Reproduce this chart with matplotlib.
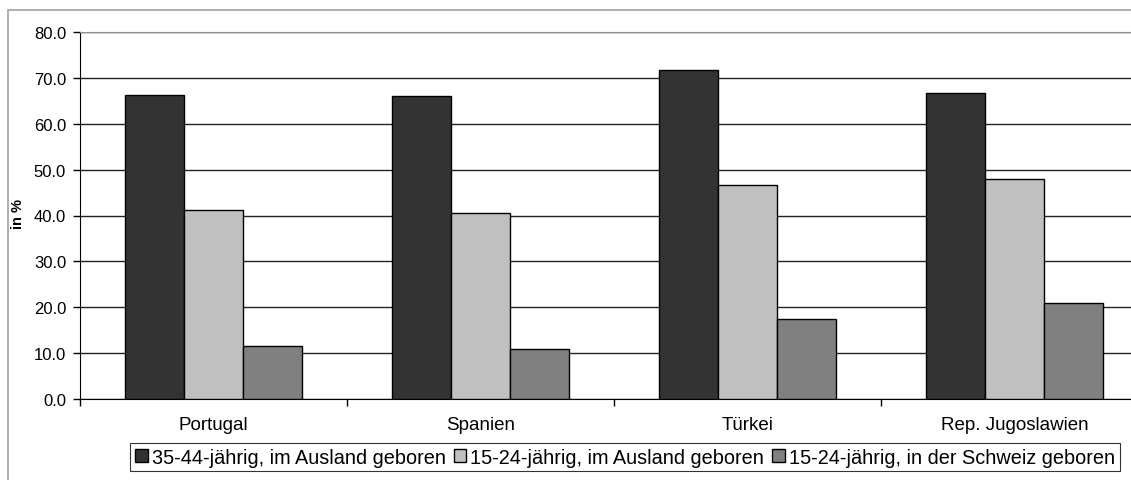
import matplotlib.pyplot as plt
import numpy as np
from matplotlib.patches import Rectangle

plt.rcParams['font.family'] = ['Liberation Sans', 'DejaVu Sans']

# Daten
laender = ['Portugal', 'Spanien', 'Türkei', 'Rep. Jugoslawien']
serien = ['35-44-jährig, im Ausland geboren',
          '15-24-jährig, im Ausland geboren',
          '15-24-jährig, in der Schweiz geboren']
werte_35_44_ausland = [66.3, 66.1, 71.8, 66.6]
werte_15_24_ausland = [41.3, 40.6, 46.6, 47.9]
werte_15_24_schweiz = [11.6, 10.9, 17.4, 21.0]
farben = ['#333333', '#c0c0c0', '#808080']

fig = plt.figure(figsize=(11.31, 4.81), dpi=100)
ax = fig.add_axes([80 / 1131, 1 - 400 / 481, 1068 / 1131, 367 / 481])

# Rahmen um das ganze Diagramm (rechts und unten abgeschnitten)
oben = 1 - 11 / 481
fig.patches.append(Rectangle((8 / 1131, -0.1), 1.2, oben + 0.1,
                             transform=fig.transFigure, fill=False,
                             edgecolor='#a0a0a0', linewidth=1.2))

x = np.arange(len(laender))
breite = 0.222
alle = [werte_35_44_ausland, werte_15_24_ausland, werte_15_24_schweiz]
for i, (werte, farbe, name) in enumerate(zip(alle, farben, serien)):
    ax.bar(x + (i - 1) * breite, werte, width=breite, color=farbe,
           edgecolor='black', linewidth=1.0, label=name, zorder=3)

ax.set_xlim(-0.5, len(laender) - 0.5)
ax.set_ylim(0, 80)
ax.set_yticks(np.arange(0, 81, 10))
ax.set_yticklabels([f'{v:.1f}' for v in np.arange(0, 81, 10)], fontsize=12)
ax.yaxis.grid(True, color='#222222', linewidth=1.0, zorder=0)
fig.text(18 / 1131, 1 - 214 / 481, 'in %', rotation=90, fontsize=10.5,
         fontweight='bold', ha='center', va='center')

# Teilstriche zwischen den Kategorien, Beschriftung in der Mitte
ax.set_xticks(np.arange(-0.5, len(laender), 1.0))
ax.set_xticklabels([])
ax.set_xticks(x, minor=True)
ax.set_xticklabels(laender, minor=True, fontsize=13.5)
ax.tick_params(axis='x', which='major', direction='out', length=5, width=1)
ax.tick_params(axis='x', which='minor', length=0, pad=12)
ax.tick_params(axis='y', direction='out', length=5, width=1, pad=5)

ax.spines['top'].set_color('#909090')
ax.spines['right'].set_visible(False)
ax.spines['left'].set_color('black')
ax.spines['bottom'].set_color('black')

leg = fig.legend(loc='center', bbox_to_anchor=(625 / 1131, 1 - 458 / 481),
                 ncol=3, fontsize=14.3, frameon=True, fancybox=False,
                 edgecolor='black', handlelength=0.65, handleheight=0.65,
                 handletextpad=0.2, columnspacing=0.4, borderpad=0.25,
                 borderaxespad=0)
leg.get_frame().set_linewidth(0.8)

fig.savefig('out.png', dpi=100)
